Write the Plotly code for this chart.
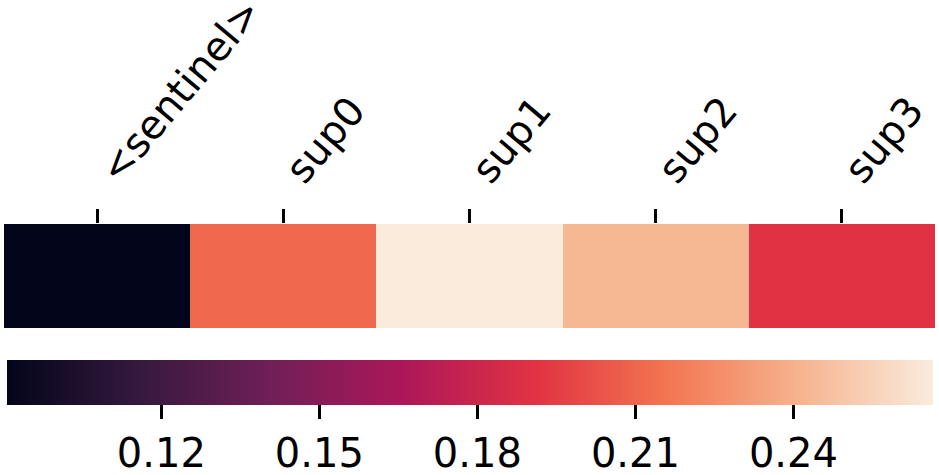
import plotly.graph_objects as go

categories = ["<sentinel>", "sup0", "sup1", "sup2", "sup3"]
values = [0.0906, 0.211, 0.2664, 0.2427, 0.1899]
cb_tickvals = [0.12, 0.15, 0.18, 0.21, 0.24]
cb_ticktext = ["0.12", "0.15", "0.18", "0.21", "0.24"]

# seaborn "rocket" colormap sampled
rocket = [
    [0.0, "#03051a"], [1/7, "#35193e"], [2/7, "#701f57"], [3/7, "#ad1759"],
    [4/7, "#e13342"], [5/7, "#f37651"], [6/7, "#f6b48f"], [1.0, "#faebdd"],
]

labels = [c.replace("<", "&lt;").replace(">", "&gt;") for c in categories]
FONT = "DejaVu Sans"

W, H = 939, 475
top, bottom = 224, 328          # heatmap band (px)
cb_top = 360                     # colorbar top (px)
plot_h = bottom - top

fig = go.Figure(go.Heatmap(
    z=[values], x=categories, y=["r"],
    colorscale=rocket, zmin=min(values), zmax=max(values),
    colorbar=dict(
        orientation="h", x=0.5, xanchor="center",
        y=-(cb_top - bottom) / plot_h, yanchor="top",
        len=0.995, lenmode="fraction", thickness=45, outlinewidth=0,
        xpad=0, ypad=0,
        tickvals=cb_tickvals, ticktext=cb_ticktext,
        ticks="outside", ticklen=14, tickwidth=2.5, tickcolor="black",
        tickfont=dict(family=FONT, size=40, color="black"),
    ),
))

fig.update_xaxes(
    side="top", ticks="outside", ticklen=14, tickwidth=2.5, tickcolor="black",
    tickmode="array", tickvals=categories, ticktext=labels, tickangle=-50,
    ticklabelshift=6,
    tickfont=dict(family=FONT, size=40, color="black"),
    showline=False, showgrid=False, zeroline=False,
)
fig.update_yaxes(showticklabels=False, showgrid=False, zeroline=False)

fig.update_layout(
    width=W, height=H,
    margin=dict(l=4, r=4, t=top, b=H - bottom, autoexpand=False),
    paper_bgcolor="white", plot_bgcolor="white",
    font=dict(family=FONT, color="black"),
)

fig.write_html("out.html")
